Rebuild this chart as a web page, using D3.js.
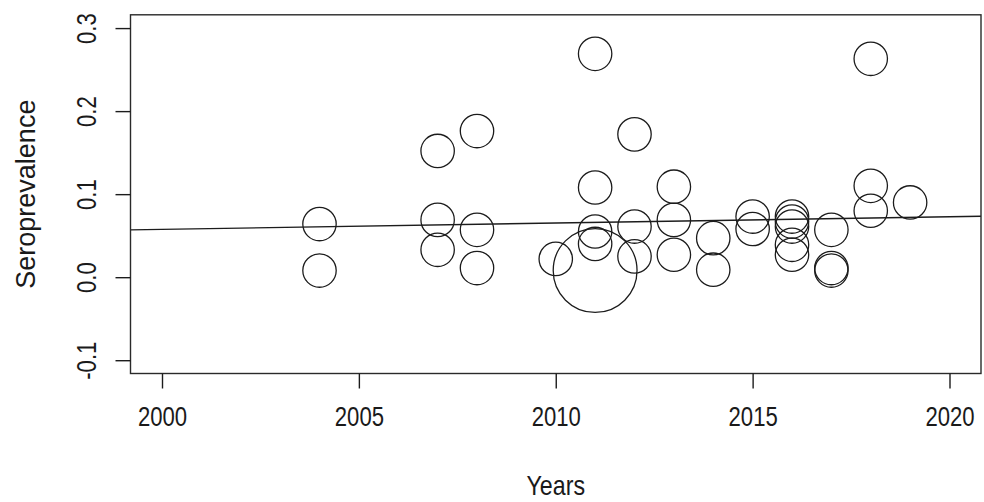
<!DOCTYPE html>
<html>
<head>
<meta charset="utf-8">
<script src="https://cdn.jsdelivr.net/npm/d3@7"></script>
<style>
  html, body { margin: 0; padding: 0; background: #ffffff; }
  svg { display: block; }
  text { font-family: "Liberation Sans", Arial, sans-serif; fill: #1a1a1a; }
</style>
</head>
<body>
<div id="chart"></div>
<script>
// ---- data ----
const years = [2004, 2004, 2007, 2007, 2007, 2008, 2008, 2008, 2010,
  2011, 2011, 2011, 2011, 2011, 2012, 2012, 2012, 2013, 2013, 2013,
  2014, 2014, 2015, 2015, 2016, 2016, 2016, 2016, 2016,
  2017, 2017, 2017, 2018, 2018, 2018, 2019];
const seroprevalence = [0.064, 0.008, 0.152, 0.069, 0.033, 0.176, 0.057, 0.011, 0.022,
  0.269, 0.108, 0.055, 0.040, 0.008, 0.172, 0.061, 0.025, 0.109, 0.069, 0.027,
  0.047, 0.009, 0.073, 0.058, 0.073, 0.067, 0.061, 0.039, 0.027,
  0.057, 0.011, 0.008, 0.263, 0.110, 0.080, 0.090];
const weights = [1, 1, 1, 1, 1, 1, 1, 1, 1,
  1, 1, 1, 1, 6.3, 1, 1, 1, 1, 1, 1,
  1, 1, 1, 1, 1, 1, 1, 1, 1,
  1, 1, 1, 1, 1, 1, 1];
const regIntercept2000 = 0.0576;   // fitted value at year 2000
const regSlope = 0.00076;          // change per year
const xLimits = [2000, 2020];
const yLimits = [-0.1, 0.3];
const xTicks = [2000, 2005, 2010, 2015, 2020];
const yTicks = [-0.1, 0.0, 0.1, 0.2, 0.3];
const xTitle = "Years";
const yTitle = "Seroprevalence";

// ---- layout ----
const W = 984, H = 502;
const plot = { left: 130.5, right: 981, top: 14.8, bottom: 373.5 };
const fs = 27;          // font size
const squeeze = 0.82;   // narrow face
const ink = "#1c1c1c";

const pad = (l) => { const d = (l[1] - l[0]) * 0.04; return [l[0] - d, l[1] + d]; };
const x = d3.scaleLinear().domain(pad(xLimits)).range([plot.left, plot.right]);
const y = d3.scaleLinear().domain(pad(yLimits)).range([plot.bottom, plot.top]);
const r = d3.scaleSqrt().domain([0, 1]).range([0, 16.7]);

const svg = d3.select("#chart").append("svg")
  .attr("width", W).attr("height", H)
  .attr("viewBox", `0 0 ${W} ${H}`);

svg.append("rect").attr("width", W).attr("height", H).attr("fill", "#fff");

svg.append("defs").append("clipPath").attr("id", "clip")
  .append("rect")
  .attr("x", plot.left).attr("y", plot.top)
  .attr("width", plot.right - plot.left).attr("height", plot.bottom - plot.top);

// regression line across the whole plotting region
const xd = x.domain();
const fit = (yr) => regIntercept2000 + regSlope * (yr - 2000);
svg.append("line")
  .attr("clip-path", "url(#clip)")
  .attr("x1", x(xd[0])).attr("y1", y(fit(xd[0])))
  .attr("x2", x(xd[1])).attr("y2", y(fit(xd[1])))
  .attr("stroke", ink).attr("stroke-width", 1.4);

// bubbles
const pts = years.map((yr, i) => ({ yr, v: seroprevalence[i], w: weights[i] }));
svg.append("g").attr("clip-path", "url(#clip)")
  .selectAll("circle").data(pts).join("circle")
  .attr("cx", d => x(d.yr))
  .attr("cy", d => y(d.v))
  .attr("r", d => r(d.w))
  .attr("fill", "none")
  .attr("stroke", ink)
  .attr("stroke-width", 1.3);

// box
svg.append("rect")
  .attr("x", plot.left).attr("y", plot.top)
  .attr("width", plot.right - plot.left).attr("height", plot.bottom - plot.top)
  .attr("fill", "none").attr("stroke", "#2a2a2a").attr("stroke-width", 1.4);

// x axis
const gx = svg.append("g").attr("transform", `translate(0,${plot.bottom})`)
  .call(d3.axisBottom(x).tickValues(xTicks).tickSize(15).tickFormat(d3.format("d")));
gx.select(".domain").remove();
gx.selectAll(".tick line").attr("stroke", ink).attr("stroke-width", 1.4);
gx.selectAll(".tick text")
  .attr("y", null).attr("dy", null)
  .attr("fill", ink)
  .style("font-size", fs + "px")
  .attr("text-anchor", "middle")
  .attr("transform", `translate(0,${416 - plot.bottom + 0.358 * fs}) scale(${squeeze},1)`);

// y axis
const gy = svg.append("g").attr("transform", `translate(${plot.left},0)`)
  .call(d3.axisLeft(y).tickValues(yTicks).tickSize(15).tickFormat(d3.format(".1f")));
gy.select(".domain").remove();
gy.selectAll(".tick line").attr("stroke", ink).attr("stroke-width", 1.4);
gy.selectAll(".tick text")
  .attr("x", 0).attr("dy", null)
  .attr("y", 0.358 * fs)
  .attr("fill", ink)
  .style("font-size", fs + "px")
  .attr("text-anchor", "middle")
  .text(d => d3.format(".1f")(d).replace("\u2212", "-"))
  .attr("transform", `translate(${86 - plot.left},0) rotate(-90) scale(${squeeze},1)`);

// titles
svg.append("text")
  .attr("text-anchor", "middle")
  .attr("fill", ink)
  .style("font-size", fs + "px")
  .attr("y", 0.358 * fs)
  .attr("transform", `translate(${(plot.left + plot.right) / 2},485) scale(0.86,1)`)
  .text(xTitle);

svg.append("text")
  .attr("text-anchor", "middle")
  .attr("fill", ink)
  .style("font-size", fs + "px")
  .attr("y", 0.358 * fs)
  .attr("transform", `translate(25,${(plot.top + plot.bottom) / 2}) rotate(-90)`)
  .text(yTitle);
</script>
</body>
</html>
